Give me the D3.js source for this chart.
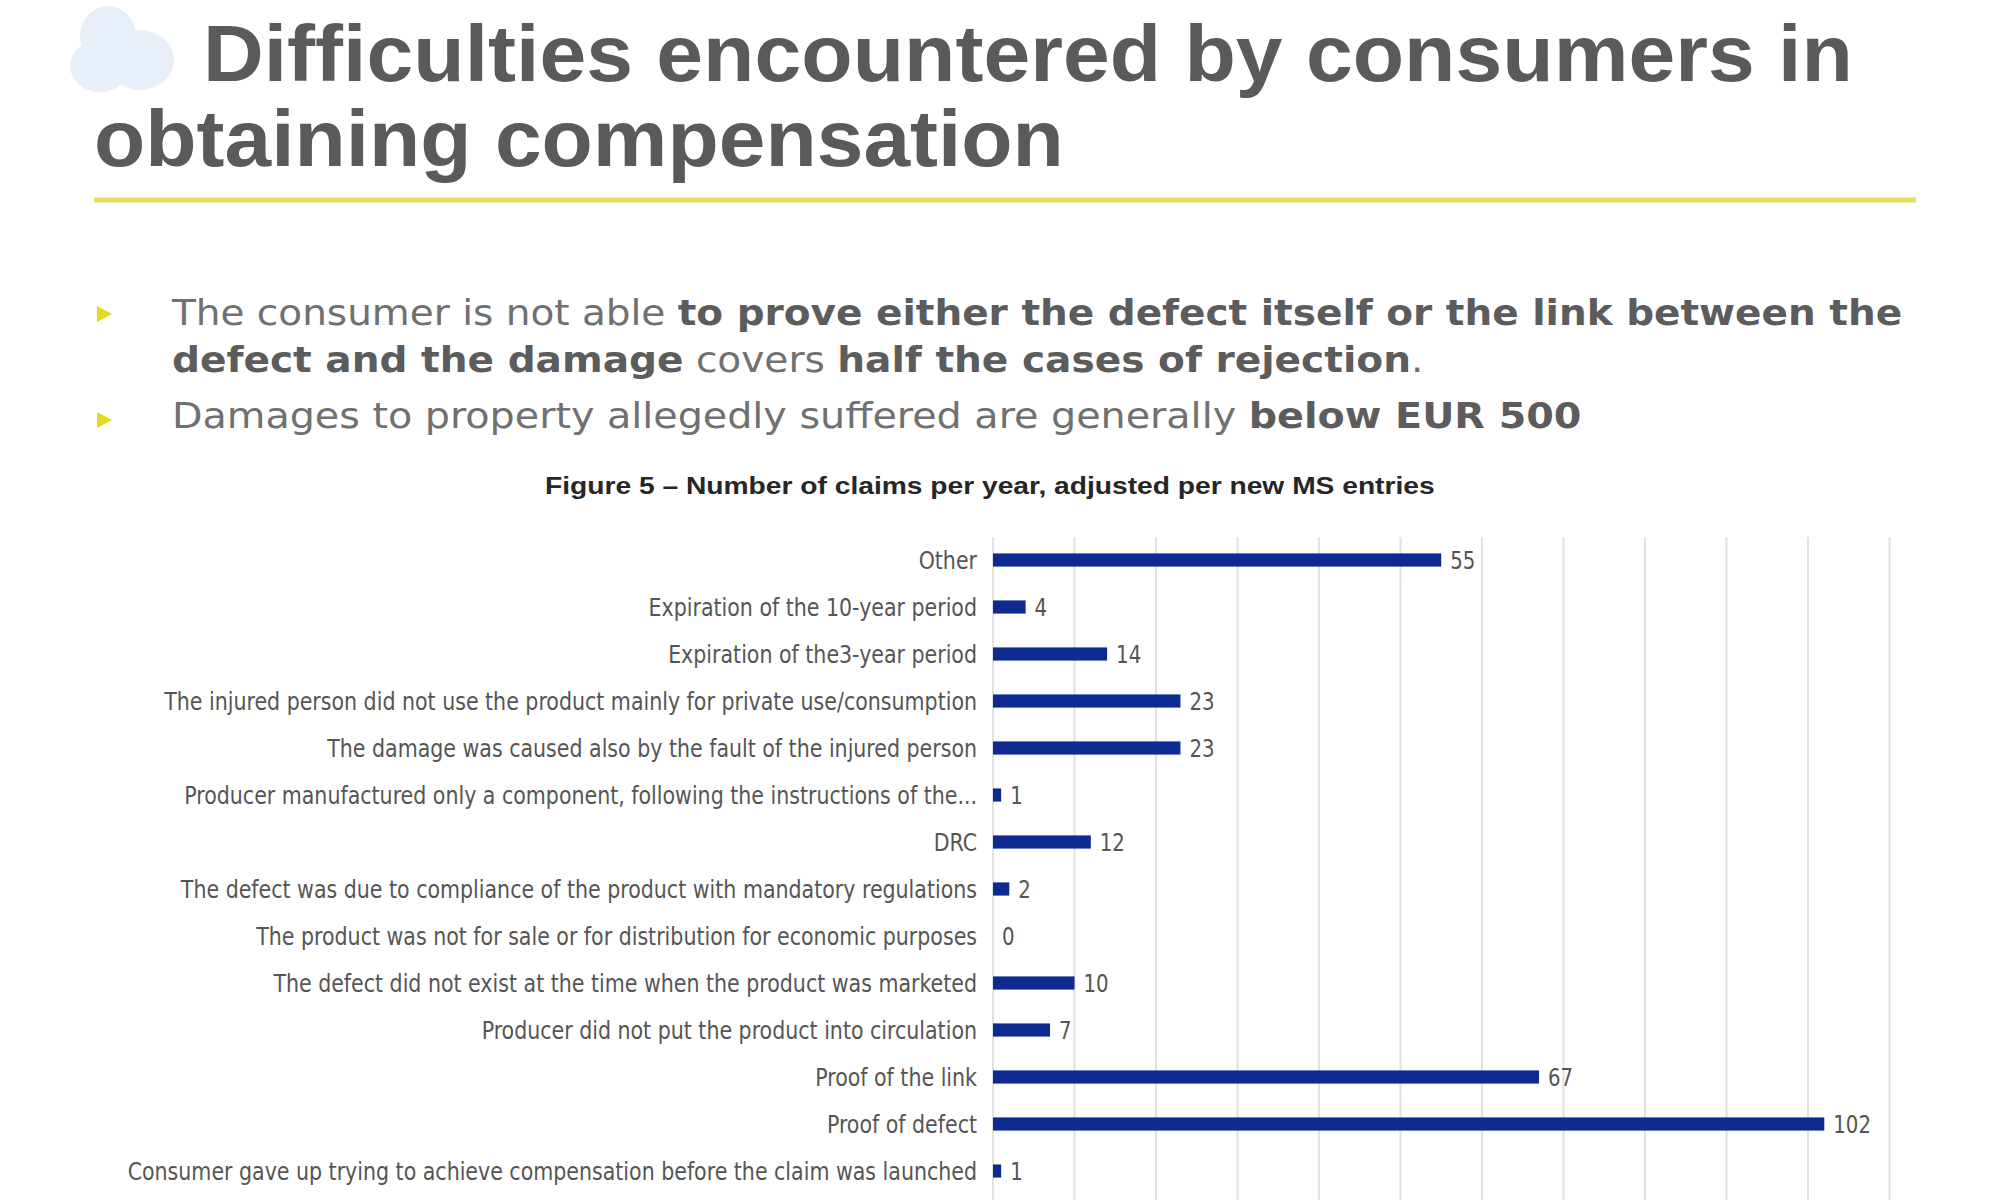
<!DOCTYPE html>
<html>
<head>
<meta charset="utf-8">
<script src="https://cdn.jsdelivr.net/npm/d3@7"></script>
<style>
  body { margin: 0; background: #fff; }
  svg { display: block; }
</style>
</head>
<body>
<svg id="slide" width="2000" height="1200"></svg>
<script>
// data
var categories = [
  'Other',
  'Expiration of the 10-year period',
  'Expiration of the3-year period',
  'The injured person did not use the product mainly for private use/consumption',
  'The damage was caused also by the fault of the injured person',
  'Producer manufactured only a component, following the instructions of the...',
  'DRC',
  'The defect was due to compliance of the product with mandatory regulations',
  'The product was not for sale or for distribution for economic purposes',
  'The defect did not exist at the time when the product was marketed',
  'Producer did not put the product into circulation',
  'Proof of the link',
  'Proof of defect',
  'Consumer gave up trying to achieve compensation before the claim was launched'
];
var claims = [55, 4, 14, 23, 23, 1, 12, 2, 0, 10, 7, 67, 102, 1];
var gridValues = [0, 10, 20, 30, 40, 50, 60, 70, 80, 90, 100, 110];

var titleLines = ['Difficulties encountered by consumers in', 'obtaining compensation'];
var bullets = [
  [['The consumer is not able ', false], ['to prove either the defect itself or the link between the', true]],
  [['defect and the damage', true], [' covers ', false], ['half the cases of rejection', true], ['.', false]],
  [['Damages to property allegedly suffered are generally ', false], ['below EUR 500', true]]
];
var figureTitle = 'Figure 5 \u2013 Number of claims per year, adjusted per new MS entries';

var svg = d3.select('#slide');

var BAR_COLOR = '#0c2a8f',
  GRID_COLOR = '#e2e2e2',
  TEXT_GREY = '#5a5a5a',
  LABEL_FONT = "'Liberation Sans Narrow', 'DejaVu Sans Condensed', 'Liberation Sans', sans-serif";

// squeeze / stretch a text horizontally so it spans `width` starting at x
function fitWidth(node, x, width) {
  var w = node.getBBox().width;
  var k = width / w;
  d3.select(node).attr('transform',
    'translate(' + x + ',0) scale(' + k + ',1) translate(' + (-x) + ',0)');
}

// ---------------------------------------------------------------- HEADER

// faint cloud blob top left
var cloud = svg.append('g').attr('fill', '#e9eff8');
cloud.append('ellipse').attr('cx', 108).attr('cy', 36).attr('rx', 28).attr('ry', 30);
cloud.append('ellipse').attr('cx', 140).attr('cy', 60).attr('rx', 34).attr('ry', 30);
cloud.append('ellipse').attr('cx', 100).attr('cy', 66).attr('rx', 30).attr('ry', 26);

var t1 = svg.append('text')
  .attr('x', 203)
  .attr('y', 81)
  .style('font-family', "'Liberation Sans', Arial, sans-serif")
  .style('font-weight', 700)
  .style('font-size', '80px')
  .attr('fill', TEXT_GREY)
  .text(titleLines[0]);
fitWidth(t1.node(), 203, 1650);

var t2 = svg.append('text')
  .attr('x', 94)
  .attr('y', 166)
  .style('font-family', "'Liberation Sans', Arial, sans-serif")
  .style('font-weight', 700)
  .style('font-size', '80px')
  .attr('fill', TEXT_GREY)
  .text(titleLines[1]);
fitWidth(t2.node(), 94, 970);

svg.append('line')
  .attr('x1', 94)
  .attr('x2', 1916)
  .attr('y1', 200)
  .attr('y2', 200)
  .attr('stroke', '#e8df5c')
  .attr('stroke-width', 5);

// ---------------------------------------------------------------- BULLETS

var bulletY = [325, 372, 428],
  bulletRight = [1904, 1424, 1582],
  BULLET_X = 172;

bullets.forEach(function(parts, i) {
  var txt = svg.append('text')
    .attr('x', BULLET_X)
    .attr('y', bulletY[i])
    .style('font-family', "'DejaVu Sans', Verdana, sans-serif")
    .style('font-size', '35px');
  parts.forEach(function(p) {
    txt.append('tspan')
      .style('font-weight', p[1] ? 700 : 400)
      .attr('fill', p[1] ? '#5c5c5c' : '#707070')
      .text(p[0]);
  });
  txt.attr('xml:space', 'preserve').style('white-space', 'pre');
  fitWidth(txt.node(), BULLET_X, bulletRight[i] - BULLET_X);
});

// yellow arrow heads in front of the two bullets
[314, 420].forEach(function(cy) {
  svg.append('path')
    .attr('d', 'M97,' + (cy - 8) + 'L112,' + cy + 'L97,' + (cy + 8) + 'Z')
    .attr('fill', '#e6d81c');
});

// ---------------------------------------------------------------- CHART

var ft = svg.append('text')
  .attr('x', 545)
  .attr('y', 494)
  .style('font-family', "'Liberation Sans', Arial, sans-serif")
  .style('font-weight', 700)
  .style('font-size', '24px')
  .attr('fill', '#262626')
  .text(figureTitle);
fitWidth(ft.node(), 545, 890);

var x = d3.scaleLinear()
  .domain([0, 110])
  .range([993, 1889.5]);

var y = d3.scaleBand()
  .domain(categories)
  .range([536.5, 1194.5])
  .paddingInner(0.72)
  .paddingOuter(0.36);

// Gridlines
svg.append('g')
  .selectAll('line')
  .data(gridValues)
  .enter()
  .append('line')
    .attr('x1', function(d) { return x(d); })
    .attr('x2', function(d) { return x(d); })
    .attr('y1', 537)
    .attr('y2', 1200)
    .attr('stroke', GRID_COLOR)
    .attr('stroke-width', 2);

// Bars
svg.append('g')
  .selectAll('rect')
  .data(claims)
  .enter()
  .append('rect')
    .attr('x', x(0))
    .attr('y', function(d, i) { return y(categories[i]); })
    .attr('width', function(d) { return x(d) - x(0); })
    .attr('height', y.bandwidth())
    .attr('fill', BAR_COLOR);

// Category labels, right aligned against the axis
var LABEL_RIGHT = 977;
var labelGroup = svg.append('g');
var labels = labelGroup.selectAll('text')
  .data(categories)
  .enter()
  .append('text')
    .attr('x', 0)
    .attr('y', function(d) { return y(d) + y.bandwidth() / 2; })
    .attr('dy', '0.36em')
    .style('text-anchor', 'end')
    .style('font-family', LABEL_FONT)
    .style('font-size', '25px')
    .attr('fill', '#555')
    .text(function(d) { return d; });

// narrow the labels so the longest one spans like on the slide
var longest = d3.max(labels.nodes(), function(n) { return n.getComputedTextLength(); });
var squeeze = 850 / longest;
labelGroup.attr('transform', 'translate(' + LABEL_RIGHT + ',0) scale(' + squeeze + ',1)');

// Value labels
svg.append('g')
  .selectAll('text')
  .data(claims)
  .enter()
  .append('text')
    .attr('transform', function(d, i) {
      return 'translate(' + (x(d) + 9) + ',' + (y(categories[i]) + y.bandwidth() / 2) + ') scale(' + squeeze + ',1)';
    })
    .attr('dy', '0.36em')
    .style('font-family', LABEL_FONT)
    .style('font-size', '24px')
    .attr('fill', '#555')
    .text(function(d) { return d; });
</script>
</body>
</html>
